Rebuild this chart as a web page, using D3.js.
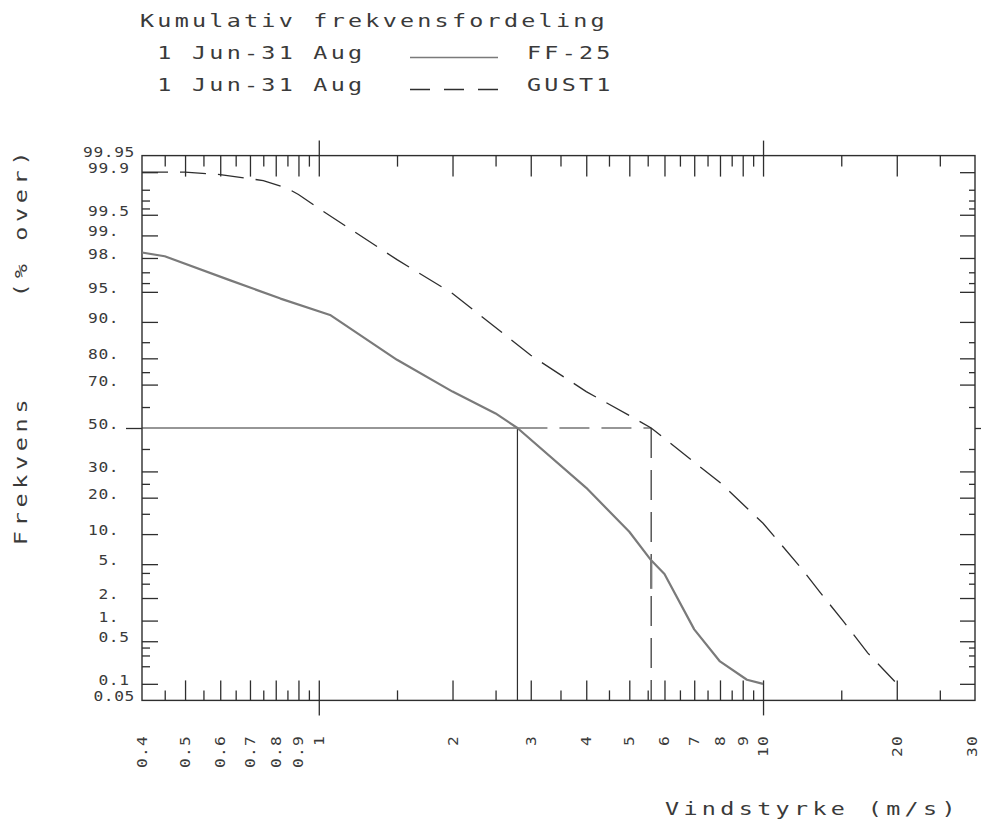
<!DOCTYPE html>
<html>
<head>
<meta charset="utf-8">
<script src="https://cdn.jsdelivr.net/npm/d3@7"></script>
<style>
  html, body { margin: 0; padding: 0; background: #fff; }
  svg { display: block; }
  text { font-family: "DejaVu Sans Mono", "Liberation Mono", monospace; fill: #3a3a3a; }
</style>
</head>
<body>
<svg id="chart" width="981" height="820"></svg>
<script>
// Wind speed (m/s) and percentage of time the speed is exceeded, 1 Jun - 31 Aug
const windFF   = [0.4, 0.45, 0.63, 0.82, 1.06, 1.5, 2.0, 2.5, 2.8, 4.0, 5.0, 5.6, 6.0, 7.0, 8.0, 9.2, 10.0];
const overFF   = [98.3, 98.1, 96.3, 94.1, 91.4, 79.5, 67, 57, 50, 23.5, 10.5, 5.5, 3.9, 0.75, 0.24, 0.118, 0.1];

const windGust = [0.4, 0.5, 0.6, 0.7, 0.75, 0.85, 0.9, 1.0, 1.5, 2.0, 3.0, 4.0, 5.0, 5.6, 7.0, 8.0, 10.0, 12.2, 13.4, 15.2, 17.2, 19.8];
const overGust = [99.9, 99.9, 99.89, 99.87, 99.86, 99.81, 99.76, 99.6, 97.9, 94.8, 81, 67, 56, 50, 34, 25.5, 12.5, 4.5, 2.4, 0.96, 0.33, 0.11];

// Median (50 % exceedance) wind speeds
const medianFF = 2.8;
const medianGust = 5.6;
// Pen overlap on the GUST1 median drop line (percent range)
const gustPenMark = [5.4, 2.6];

// Axis ticks
const xLabelValues = [0.4, 0.5, 0.6, 0.7, 0.8, 0.9, 1, 2, 3, 4, 5, 6, 7, 8, 9, 10, 20, 30];
const xLabelTexts  = ["0.4", "0.5", "0.6", "0.7", "0.8", "0.9", "1", "2", "3", "4", "5", "6", "7", "8", "9", "10", "20", "30"];
const xLongTicks   = [0.5, 0.6, 0.7, 0.8, 0.9, 2, 3, 4, 5, 6, 7, 8, 9, 20];
const xShortTicks  = [0.45, 0.55, 0.65, 0.75, 0.85, 0.95, 1.5, 2.5, 3.5, 4.5, 5.5, 6.5, 7.5, 8.5, 9.5, 15, 25];
const xMajorTicks  = [1, 10];

const yLabelValues = [99.95, 99.9, 99.5, 99, 98, 95, 90, 80, 70, 50, 30, 20, 10, 5, 2, 1, 0.5, 0.1, 0.05];
const yLabelTexts  = ["99.95", "99.9", "99.5", "99.", "98.", "95.", "90.", "80.", "70.", "50.", "30.", "20.", "10.", "5.", "2.", "1.", "0.5", "0.1", "0.05"];
const yLongTicks   = [99.9, 99.5, 99, 98, 95, 90, 80, 70, 30, 20, 10, 5, 2, 1, 0.5, 0.1];
const yShortTicks  = [99.8, 99.7, 99.6, 97, 96, 85, 75, 60, 40, 25, 15, 4, 3, 0.4, 0.3, 0.2];
const yCrossTicks  = [50];

// Inverse of the standard normal CDF (Acklam's rational approximation)
function probit(p) {
  const a = [-3.969683028665376e+01, 2.209460984245205e+02, -2.759285104469687e+02,
              1.383577518672690e+02, -3.066479806614716e+01, 2.506628277459239e+00];
  const b = [-5.447609879822406e+01, 1.615858368580409e+02, -1.556989798598866e+02,
              6.680131188771972e+01, -1.328068155288572e+01];
  const c = [-7.784894002430293e-03, -3.223964580411365e-01, -2.400758277161838e+00,
             -2.549671010115819e+00, 4.374664141464968e+00, 2.938163982698783e+00];
  const d = [7.784695709041462e-03, 3.224671290700398e-01, 2.445134137142996e+00,
             3.754408661907416e+00];
  const pl = 0.02425, ph = 1 - pl;
  let q, r;
  if (p < pl) {
    q = Math.sqrt(-2 * Math.log(p));
    return (((((c[0]*q+c[1])*q+c[2])*q+c[3])*q+c[4])*q+c[5]) / ((((d[0]*q+d[1])*q+d[2])*q+d[3])*q+1);
  }
  if (p <= ph) {
    q = p - 0.5; r = q * q;
    return (((((a[0]*r+a[1])*r+a[2])*r+a[3])*r+a[4])*r+a[5])*q / (((((b[0]*r+b[1])*r+b[2])*r+b[3])*r+b[4])*r+1);
  }
  q = Math.sqrt(-2 * Math.log(1 - p));
  return -(((((c[0]*q+c[1])*q+c[2])*q+c[3])*q+c[4])*q+c[5]) / ((((d[0]*q+d[1])*q+d[2])*q+d[3])*q+1);
}
const zq = pct => probit(pct / 100);

const frameL = 142, frameR = 975, frameT = 155.6, frameB = 700.4;

const svg = d3.select("#chart");

const x = d3.scaleLog().domain([0.4, 30]).range([frameL, frameR]);
// Normal-probability axis: linear in the standard normal quantile
const yz = d3.scaleLinear().domain([zq(0.05), zq(99.95)]).range([frameB, frameT]);
const y = pct => yz(zq(pct));

const ink = "#2e2e2e";
const penGrey = "#7a7a7a";

// Plotter-style lettering: monospace glyphs widened along the writing direction
const MONO = 0.602;
function label(sel, opts) {
  const { tx, ty, rot = 0, size, stretch, adv, anchor = "start", txt } = opts;
  const spacing = (adv - size * MONO * stretch) / stretch;
  return sel.append("text")
    .attr("transform", `translate(${tx},${ty})${rot ? ` rotate(${rot})` : ""} scale(${stretch},1)`)
    .attr("text-anchor", anchor)
    .attr("font-size", size)
    .attr("letter-spacing", spacing)
    .text(txt);
}

// Frame
svg.append("rect")
  .attr("x", frameL).attr("y", frameT)
  .attr("width", frameR - frameL).attr("height", frameB - frameT)
  .attr("fill", "none").attr("stroke", ink).attr("stroke-width", 1.4);

function tickGroup(axis, tx, ty) {
  const g = svg.append("g").attr("transform", `translate(${tx},${ty})`).call(axis);
  g.select(".domain").remove();
  g.selectAll("text").remove();
  g.selectAll("line").attr("stroke", ink).attr("stroke-width", 1.3);
  return g;
}

// x ticks, bottom and top edges (pointing inward)
tickGroup(d3.axisBottom(x).tickValues(xLongTicks).tickSize(-20), 0, frameB);
tickGroup(d3.axisBottom(x).tickValues(xShortTicks).tickSize(-10), 0, frameB);
tickGroup(d3.axisTop(x).tickValues(xLongTicks).tickSize(-21), 0, frameT);
tickGroup(d3.axisTop(x).tickValues(xShortTicks).tickSize(-11), 0, frameT);
// decade ticks cross the frame
tickGroup(d3.axisBottom(x).tickValues(xMajorTicks).tickSize(-20), 0, frameB);
tickGroup(d3.axisBottom(x).tickValues(xMajorTicks).tickSize(15), 0, frameB);
tickGroup(d3.axisTop(x).tickValues(xMajorTicks).tickSize(-21), 0, frameT);
tickGroup(d3.axisTop(x).tickValues(xMajorTicks).tickSize(15), 0, frameT);

// y ticks on the probability scale
const zLong = yLongTicks.map(zq), zShort = yShortTicks.map(zq), zCross = yCrossTicks.map(zq);
tickGroup(d3.axisLeft(yz).tickValues(zLong).tickSize(-16), frameL, 0);
tickGroup(d3.axisLeft(yz).tickValues(zShort).tickSize(-8), frameL, 0);
tickGroup(d3.axisRight(yz).tickValues(zLong).tickSize(-15), frameR, 0);
tickGroup(d3.axisRight(yz).tickValues(zShort).tickSize(-6), frameR, 0);
tickGroup(d3.axisLeft(yz).tickValues(zCross).tickSize(16), frameL, 0);
tickGroup(d3.axisRight(yz).tickValues(zCross).tickSize(16), frameR, 0);

// y tick labels, aligned on the decimal point
const tickFont = 13.5, tickStretch = 1.2;
const yAdv = 10.4, xAdv = 11;
const dotX = 114;
yLabelValues.forEach((v, i) => {
  const s = yLabelTexts[i];
  const idx = s.indexOf(".");
  const xs = Math.min(dotX - yAdv / 2 - idx * yAdv, 135 - s.length * yAdv);
  label(svg, { tx: xs, ty: y(v) + 1, size: tickFont, stretch: tickStretch, adv: yAdv, txt: s });
});

// x tick labels, rotated and read upward
xLabelValues.forEach((v, i) => {
  label(svg, { tx: Math.min(x(v) + 5, 977), ty: 735, rot: -90, size: tickFont,
               stretch: tickStretch, adv: xAdv, anchor: "end", txt: xLabelTexts[i] });
});

// Median guide lines
const guide = svg.append("g").attr("fill", "none").attr("stroke", ink).attr("stroke-width", 1.2);
guide.append("line")
  .attr("x1", x(0.4)).attr("x2", x(medianFF)).attr("y1", y(50)).attr("y2", y(50));
guide.append("line")
  .attr("x1", x(medianFF)).attr("x2", x(medianFF)).attr("y1", y(50)).attr("y2", y(0.05));
guide.append("line")
  .attr("x1", x(medianFF)).attr("x2", x(medianGust)).attr("y1", y(50)).attr("y2", y(50))
  .attr("stroke-dasharray", "30,12");
guide.append("line")
  .attr("x1", x(medianGust)).attr("x2", x(medianGust)).attr("y1", y(50)).attr("y2", y(0.05))
  .attr("stroke-dasharray", "30,12");
guide.append("line")
  .attr("x1", x(medianGust)).attr("x2", x(medianGust))
  .attr("y1", y(gustPenMark[0])).attr("y2", y(gustPenMark[1]))
  .attr("stroke", penGrey).attr("stroke-width", 2.4);

// Distribution curves
const line = d3.line().x(d => x(d[0])).y(d => y(d[1]));
svg.append("path")
  .datum(windFF.map((w, i) => [w, overFF[i]]))
  .attr("d", line)
  .attr("fill", "none").attr("stroke", penGrey).attr("stroke-width", 2.2)
  .attr("stroke-linejoin", "round");
svg.append("path")
  .datum(windGust.map((w, i) => [w, overGust[i]]))
  .attr("d", line)
  .attr("fill", "none").attr("stroke", ink).attr("stroke-width", 1.3)
  .attr("stroke-dasharray", "26,12");

// Title and legend
const headFont = 18, headStretch = 1.3, headAdv = 17.34;
label(svg, { tx: 140, ty: 27, size: headFont, stretch: headStretch, adv: headAdv,
             txt: "Kumulativ frekvensfordeling" });
const legendRows = [
  { label: "1 Jun-31 Aug", name: "FF-25", dash: null, yy: 59 },
  { label: "1 Jun-31 Aug", name: "GUST1", dash: "20,14", yy: 91 }
];
legendRows.forEach(r => {
  label(svg, { tx: 140 + headAdv, ty: r.yy, size: headFont, stretch: headStretch, adv: headAdv, txt: r.label });
  svg.append("line").attr("x1", 410).attr("x2", 498).attr("y1", r.yy - 1.5).attr("y2", r.yy - 1.5)
    .attr("stroke", r.dash ? ink : penGrey).attr("stroke-width", 1.4)
    .attr("stroke-dasharray", r.dash);
  label(svg, { tx: 527, ty: r.yy, size: headFont, stretch: headStretch, adv: headAdv, txt: r.name });
});

// Axis titles
label(svg, { tx: 26.5, ty: 470, rot: -90, size: headFont, stretch: headStretch, adv: 18.8,
             anchor: "middle", txt: "Frekvens" });
label(svg, { tx: 26.5, ty: 222, rot: -90, size: headFont, stretch: headStretch, adv: 18.8,
             anchor: "middle", txt: "(% over)" });
label(svg, { tx: 665, ty: 815, size: headFont, stretch: headStretch, adv: 18.44,
             txt: "Vindstyrke (m/s)" });
</script>
</body>
</html>
